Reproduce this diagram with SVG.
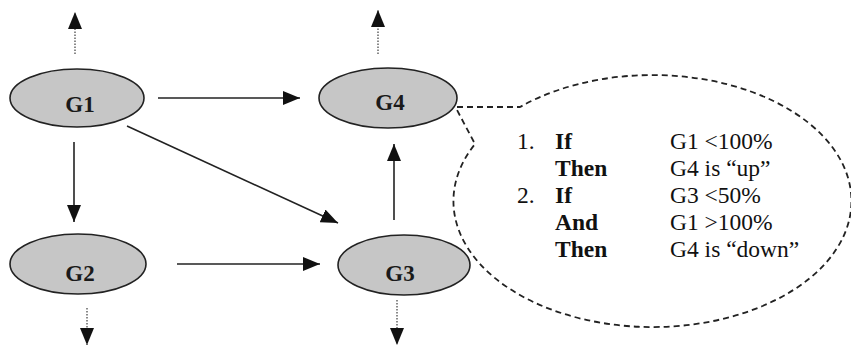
<svg xmlns="http://www.w3.org/2000/svg" width="851" height="357" viewBox="0 0 851 357">
  <style>
    .node ellipse { fill: #c6c6c6; stroke: #222; stroke-width: 1.6; }
    .node text { font-weight: bold; font-size: 23px; fill: #1a1a1a; text-anchor: middle; }
    .flow { stroke: #222; stroke-width: 1.6; fill: none; marker-end: url(#head); }
    .out { stroke: #8a8a8a; stroke-width: 2; stroke-dasharray: 1.5 1.5; fill: none; marker-end: url(#head); }
    .callout { fill: none; stroke: #222; stroke-width: 1.8; stroke-dasharray: 6 4; }
    .rule { font-size: 23.5px; fill: #111; }
    .rule .kw { font-weight: bold; }
  </style>
  <defs>
    <marker id="head" markerUnits="userSpaceOnUse" markerWidth="18" markerHeight="14" refX="17" refY="7" orient="auto">
      <path d="M0,0 L17,7 L0,14 Z" fill="#111"/>
    </marker>
  </defs>

  <!-- connectors -->
  <g id="connectors">
    <line class="flow" x1="158" y1="98" x2="300" y2="98"/>
    <line class="flow" x1="127" y1="126" x2="338" y2="223"/>
    <line class="flow" x1="74" y1="142" x2="74" y2="222"/>
    <line class="flow" x1="177" y1="264" x2="320" y2="264"/>
    <line class="flow" x1="394" y1="220" x2="394" y2="144"/>
    <!-- outputs leaving the graph -->
    <line class="out" x1="75" y1="54" x2="75" y2="12"/>
    <line class="out" x1="378" y1="54" x2="378" y2="10"/>
    <line class="out" x1="87" y1="308" x2="87" y2="345"/>
    <line class="out" x1="397" y1="300" x2="397" y2="345"/>
  </g>

  <!-- rule bubble attached to G4 -->
  <g id="rules">
    <path class="callout" d="M457,107 L520,107 A199,126 0 1 1 475,144 L457,110"/>
    <g class="rule" font-family="'Liberation Serif', 'Times New Roman', 'DejaVu Serif', serif">
      <text x="517" y="149">1.</text>
      <text class="kw" x="555" y="149">If</text>
      <text x="670" y="149">G1 &lt;100%</text>
      <text class="kw" x="555" y="176">Then</text>
      <text x="670" y="176">G4 is “up”</text>
      <text x="517" y="203">2.</text>
      <text class="kw" x="555" y="203">If</text>
      <text x="670" y="203">G3 &lt;50%</text>
      <text class="kw" x="555" y="230">And</text>
      <text x="670" y="230">G1 &gt;100%</text>
      <text class="kw" x="555" y="257">Then</text>
      <text x="670" y="257">G4 is “down”</text>
    </g>
  </g>

  <!-- nodes -->
  <g id="G1" class="node" font-family="'Liberation Serif', 'Times New Roman', 'DejaVu Serif', serif">
    <ellipse cx="77" cy="98" rx="67" ry="29"/>
    <text x="80" y="112">G1</text>
  </g>
  <g id="G4" class="node" font-family="'Liberation Serif', 'Times New Roman', 'DejaVu Serif', serif">
    <ellipse cx="388" cy="98" rx="69" ry="30"/>
    <text x="390" y="110">G4</text>
  </g>
  <g id="G2" class="node" font-family="'Liberation Serif', 'Times New Roman', 'DejaVu Serif', serif">
    <ellipse cx="78" cy="264" rx="68" ry="30"/>
    <text x="80" y="281">G2</text>
  </g>
  <g id="G3" class="node" font-family="'Liberation Serif', 'Times New Roman', 'DejaVu Serif', serif">
    <ellipse cx="404" cy="265" rx="66" ry="30"/>
    <text x="400" y="281">G3</text>
  </g>
</svg>
